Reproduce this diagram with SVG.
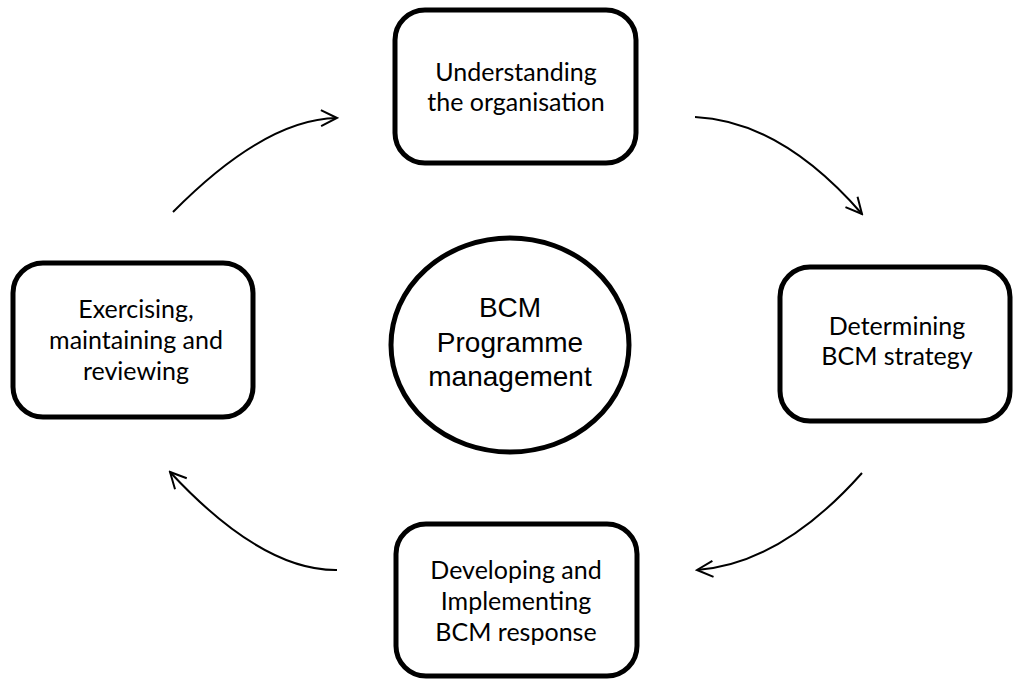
<svg xmlns="http://www.w3.org/2000/svg" width="1014" height="679" viewBox="0 0 1014 679">
<defs>
<style>
.box{fill:#fff;stroke:#000;stroke-width:5}
.lbl{font-family:Lato,"Open Sans","Liberation Sans",sans-serif;font-size:25px;fill:#000;text-anchor:middle}
.clbl{font-family:"Liberation Sans",Arial,sans-serif;font-size:28px;fill:#000;text-anchor:middle}
.arr{fill:none;stroke:#000;stroke-width:2}
</style>
<marker id="ah" viewBox="0 0 20 20" refX="18" refY="10" markerWidth="20" markerHeight="20" markerUnits="userSpaceOnUse" orient="auto">
<path d="M2,2 L18,10 L2,18" fill="none" stroke="#000" stroke-width="2"/>
</marker>
</defs>
<rect width="1014" height="679" fill="#fff"/>
<g id="connectors">
<path class="arr" d="M173,212 Q265,119 337,118" marker-end="url(#ah)"/>
<path class="arr" d="M695,117 Q781,121 862,214" marker-end="url(#ah)"/>
<path class="arr" d="M862,473 Q781,564 697,570" marker-end="url(#ah)"/>
<path class="arr" d="M337,570 Q262,571 170,472" marker-end="url(#ah)"/>
</g>
<g id="understanding">
<rect class="box" x="395" y="10" width="241" height="153" rx="30"/>
<text class="lbl" x="516" y="81">Understanding</text>
<text class="lbl" x="516" y="111">the organisation</text>
</g>
<g id="determining">
<rect class="box" x="780" y="267" width="230" height="154" rx="30"/>
<text class="lbl" x="897" y="335">Determining</text>
<text class="lbl" x="897" y="365">BCM strategy</text>
</g>
<g id="developing">
<rect class="box" x="396" y="524" width="241" height="152" rx="30"/>
<text class="lbl" x="516" y="579">Developing and</text>
<text class="lbl" x="516" y="610">Implementing</text>
<text class="lbl" x="516" y="641">BCM response</text>
</g>
<g id="exercising">
<rect class="box" x="13" y="263" width="240" height="154" rx="30"/>
<text class="lbl" x="136" y="318">Exercising,</text>
<text class="lbl" x="136" y="349">maintaining and</text>
<text class="lbl" x="136" y="380">reviewing</text>
</g>
<g id="bcm">
<ellipse class="box" cx="510" cy="345" rx="119" ry="107"/>
<text class="clbl" x="510" y="317">BCM</text>
<text class="clbl" x="510" y="352">Programme</text>
<text class="clbl" x="510" y="386">management</text>
</g>
</svg>
